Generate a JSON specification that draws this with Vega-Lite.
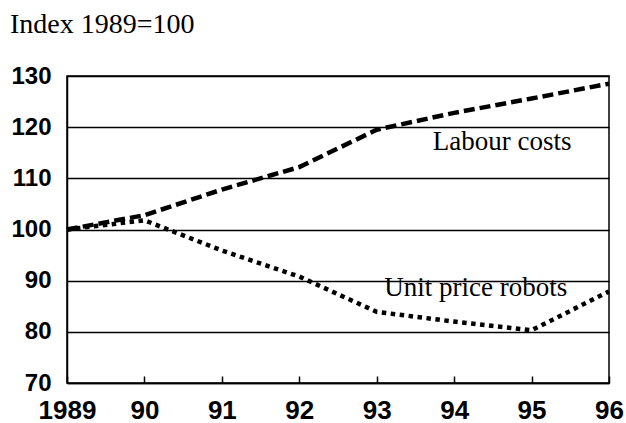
{
  "$schema": "https://vega.github.io/schema/vega-lite/v6.json",
  "width": 542,
  "height": 307,
  "autosize": {"type": "none"},
  "padding": {"left": 67, "top": 76, "right": 17, "bottom": 40},
  "background": "white",
  "config": {
    "view": {"stroke": "black", "strokeWidth": 1.5},
    "axis": {"domainColor": "black", "tickColor": "black", "gridColor": "black", "labelColor": "black"}
  },
  "title": {
    "text": "Index  1989=100",
    "anchor": "start",
    "frame": "group",
    "dx": -57,
    "offset": 3,
    "baseline": "alphabetic",
    "font": "Liberation Serif",
    "fontSize": 28,
    "fontWeight": "normal",
    "color": "black"
  },
  "layer": [
    {
      "data": {
        "values": [
          {"year": 1989, "value": 100, "series": "Labour costs"},
          {"year": 1990, "value": 102.8, "series": "Labour costs"},
          {"year": 1991, "value": 107.8, "series": "Labour costs"},
          {"year": 1992, "value": 112.2, "series": "Labour costs"},
          {"year": 1993, "value": 119.5, "series": "Labour costs"},
          {"year": 1994, "value": 122.8, "series": "Labour costs"},
          {"year": 1995, "value": 125.6, "series": "Labour costs"},
          {"year": 1996, "value": 128.5, "series": "Labour costs"},
          {"year": 1989, "value": 100, "series": "Unit price robots"},
          {"year": 1990, "value": 101.8, "series": "Unit price robots"},
          {"year": 1991, "value": 95.9, "series": "Unit price robots"},
          {"year": 1992, "value": 90.8, "series": "Unit price robots"},
          {"year": 1993, "value": 83.9, "series": "Unit price robots"},
          {"year": 1994, "value": 82.0, "series": "Unit price robots"},
          {"year": 1995, "value": 80.3, "series": "Unit price robots"},
          {"year": 1996, "value": 87.9, "series": "Unit price robots"}
        ]
      },
      "mark": {"type": "line", "color": "black", "strokeWidth": 4.5, "strokeCap": "butt"},
      "encoding": {
        "x": {
          "field": "year",
          "type": "quantitative",
          "scale": {"domain": [1989, 1996], "nice": false, "zero": false},
          "axis": {
            "title": null,
            "values": [1989, 1990, 1991, 1992, 1993, 1994, 1995, 1996],
            "labelExpr": "datum.value == 1989 ? '1989' : substring(toString(datum.value), 2)",
            "grid": false,
            "tickSize": -7,
            "tickWidth": 1.5,
            "domainWidth": 1.5,
            "labelPadding": 21,
            "labelFont": "Liberation Sans",
            "labelFontSize": 26,
            "labelFontWeight": "bold",
            "labelFlush": false,
            "labelOverlap": false
          }
        },
        "y": {
          "field": "value",
          "type": "quantitative",
          "scale": {"domain": [70, 130], "nice": false, "zero": false},
          "axis": {
            "title": null,
            "values": [70, 80, 90, 100, 110, 120, 130],
            "ticks": false,
            "grid": true,
            "gridWidth": 1.5,
            "domainWidth": 1.5,
            "labelPadding": 16,
            "labelFont": "Liberation Sans",
            "labelFontSize": 24,
            "labelFontWeight": "bold",
            "labelFlush": false,
            "labelOverlap": false
          }
        },
        "detail": {"field": "series"},
        "strokeDash": {
          "field": "series",
          "type": "nominal",
          "scale": {"domain": ["Labour costs", "Unit price robots"], "range": [[11, 5], [4.5, 4.5]]},
          "legend": null
        }
      }
    },
    {
      "data": {
        "values": [
          {"year": 1994.62, "value": 117.1, "label": "Labour costs"},
          {"year": 1994.28, "value": 88.6, "label": "Unit price robots"}
        ]
      },
      "mark": {"type": "text", "font": "Liberation Serif", "fontSize": 27, "color": "black", "align": "center", "baseline": "middle"},
      "encoding": {
        "x": {"field": "year", "type": "quantitative"},
        "y": {"field": "value", "type": "quantitative"},
        "text": {"field": "label"}
      }
    }
  ]
}
